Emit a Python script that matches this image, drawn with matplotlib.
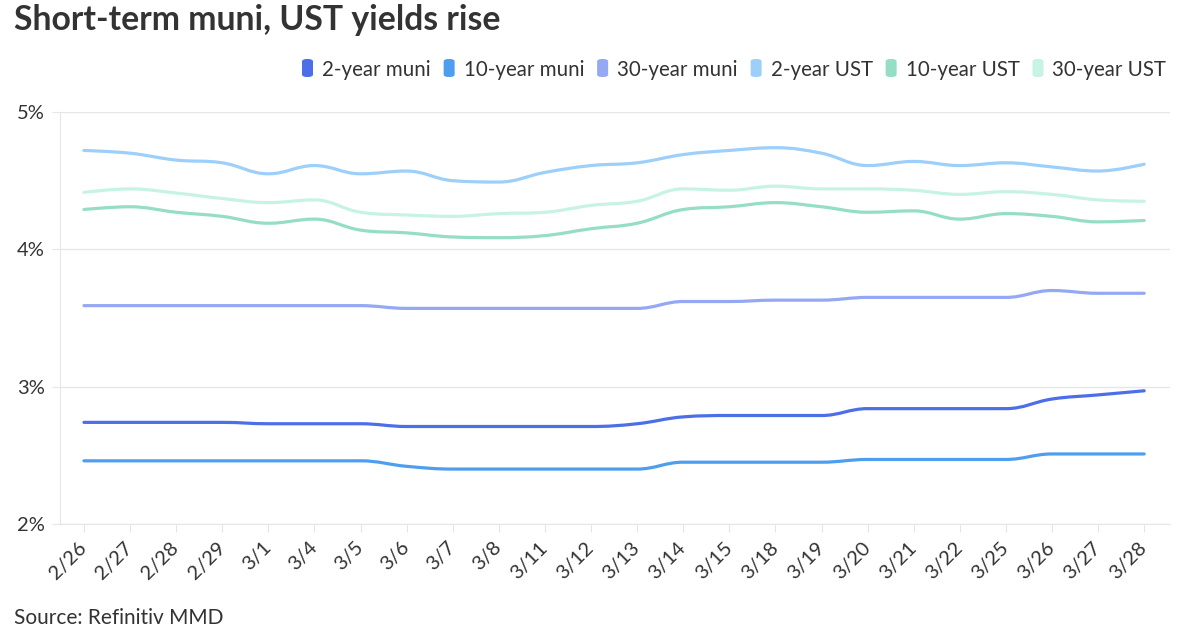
import matplotlib
matplotlib.use("Agg")
import matplotlib.pyplot as plt
from matplotlib.path import Path
from matplotlib.patches import PathPatch, FancyBboxPatch

plt.rcParams['font.family'] = ['Lato', 'DejaVu Sans']

# data
dates = ['2/26', '2/27', '2/28', '2/29', '3/1', '3/4', '3/5', '3/6', '3/7', '3/8',
         '3/11', '3/12', '3/13', '3/14', '3/15', '3/18', '3/19', '3/20', '3/21',
         '3/22', '3/25', '3/26', '3/27', '3/28']
muni_2y = [2.74, 2.74, 2.74, 2.74, 2.73, 2.73, 2.73, 2.71, 2.71, 2.71, 2.71, 2.71,
           2.73, 2.78, 2.79, 2.79, 2.79, 2.84, 2.84, 2.84, 2.84, 2.91, 2.94, 2.97]
muni_10y = [2.46, 2.46, 2.46, 2.46, 2.46, 2.46, 2.46, 2.42, 2.40, 2.40, 2.40, 2.40,
            2.40, 2.45, 2.45, 2.45, 2.45, 2.47, 2.47, 2.47, 2.47, 2.51, 2.51, 2.51]
muni_30y = [3.59, 3.59, 3.59, 3.59, 3.59, 3.59, 3.59, 3.57, 3.57, 3.57, 3.57, 3.57,
            3.57, 3.62, 3.62, 3.63, 3.63, 3.65, 3.65, 3.65, 3.65, 3.70, 3.68, 3.68]
ust_2y = [4.72, 4.70, 4.65, 4.63, 4.55, 4.61, 4.55, 4.57, 4.50, 4.49, 4.56, 4.61,
          4.63, 4.69, 4.72, 4.74, 4.70, 4.61, 4.64, 4.61, 4.63, 4.60, 4.57, 4.62]
ust_10y = [4.29, 4.31, 4.27, 4.24, 4.19, 4.22, 4.14, 4.12, 4.09, 4.085, 4.10, 4.15,
           4.19, 4.29, 4.31, 4.34, 4.31, 4.27, 4.28, 4.22, 4.26, 4.24, 4.20, 4.21]
ust_30y = [4.415, 4.44, 4.41, 4.37, 4.34, 4.36, 4.27, 4.25, 4.24, 4.26, 4.27, 4.32,
           4.35, 4.44, 4.43, 4.46, 4.44, 4.44, 4.43, 4.40, 4.42, 4.40, 4.36, 4.35]

names = ['2-year muni', '10-year muni', '30-year muni', '2-year UST', '10-year UST', '30-year UST']
colors = ['#4c6fe8', '#4e9ef0', '#95a8f4', '#9dcffb', '#96ddc6', '#c7f3e4']
series = [muni_2y, muni_10y, muni_30y, ust_2y, ust_10y, ust_30y]


def spline_path(xs, ys, smoothing=1.5):
    # Highcharts-style spline: cubic bezier segments through every point
    n = len(xs)
    left = [(xs[i], ys[i]) for i in range(n)]
    right = [(xs[i], ys[i]) for i in range(n)]
    for i in range(1, n - 1):
        x, y = xs[i], ys[i]
        lx = (smoothing * x + xs[i - 1]) / (smoothing + 1)
        ly = (smoothing * y + ys[i - 1]) / (smoothing + 1)
        rx = (smoothing * x + xs[i + 1]) / (smoothing + 1)
        ry = (smoothing * y + ys[i + 1]) / (smoothing + 1)
        corr = (ry - ly) * (rx - x) / (rx - lx) + y - ry
        ly += corr
        ry += corr
        if ly > ys[i - 1] and ly > y:
            ly = max(ys[i - 1], y)
            ry = 2 * y - ly
        elif ly < ys[i - 1] and ly < y:
            ly = min(ys[i - 1], y)
            ry = 2 * y - ly
        if ry > ys[i + 1] and ry > y:
            ry = max(ys[i + 1], y)
            ly = 2 * y - ry
        elif ry < ys[i + 1] and ry < y:
            ry = min(ys[i + 1], y)
            ly = 2 * y - ry
        left[i] = (lx, ly)
        right[i] = (rx, ry)
    verts = [(xs[0], ys[0])]
    codes = [Path.MOVETO]
    for i in range(1, n):
        verts += [right[i - 1], left[i], (xs[i], ys[i])]
        codes += [Path.CURVE4] * 3
    return Path(verts, codes)


W, H = 1200, 630
fig = plt.figure(figsize=(W / 100, H / 100), dpi=100)
ax = fig.add_axes([60 / W, 1 - 524 / H, 1110 / W, 412 / H])

x = list(range(len(dates)))
for vals, col in zip(series, colors):
    ax.add_patch(PathPatch(spline_path(x, vals), facecolor='none', edgecolor=col,
                           lw=2.3, capstyle='round', joinstyle='round', zorder=3))

ax.set_xlim(-0.52, len(dates) - 1 + 0.56)
ax.set_ylim(2, 5)
ax.set_yticks([2, 3, 4, 5])
ax.set_yticklabels(['2%', '3%', '4%', '5%'])
ax.set_xticks(x)
ax.set_xticklabels(dates, rotation=45, ha='right', va='center', rotation_mode='anchor')

grid_c = '#e6e6e6'
ax.grid(axis='y', color=grid_c, lw=1, zorder=0)
for s in ['top', 'right']:
    ax.spines[s].set_visible(False)
ax.spines['left'].set_color(grid_c)
ax.spines['bottom'].set_color(grid_c)
ax.tick_params(axis='y', length=6, color=grid_c, pad=5, labelsize=14.5, labelcolor='#333333')
ax.tick_params(axis='x', length=6, color=grid_c, pad=9, labelsize=14.5, labelcolor='#333333')

# title and source
fig.text(14 / W, 1 - 30 / H, 'Short-term muni, UST yields rise', fontsize=24.3,
         fontweight='bold', color='#333333', ha='left', va='baseline')
fig.text(14 / W, 1 - 608 / H, 'Source: Refinitiv MMD', fontsize=15,
         color='#333333', ha='left', va='top')

# legend, laid out left to right
fig.canvas.draw()
renderer = fig.canvas.get_renderer()
xpos = 302
yc = 68
for name, col in zip(names, colors):
    fig.patches.append(FancyBboxPatch((xpos / W, (H - yc - 9) / H), 11 / W, 18 / H,
                                      boxstyle='round,pad=0,rounding_size=0.004',
                                      transform=fig.transFigure, facecolor=col,
                                      edgecolor='none', figure=fig))
    t = fig.text((xpos + 20) / W, 1 - yc / H, name, fontsize=14.8, color='#333333',
                 ha='left', va='center_baseline')
    bb = t.get_window_extent(renderer)
    xpos = bb.x1 + 13

fig.savefig('out.png', dpi=100, facecolor='white')
